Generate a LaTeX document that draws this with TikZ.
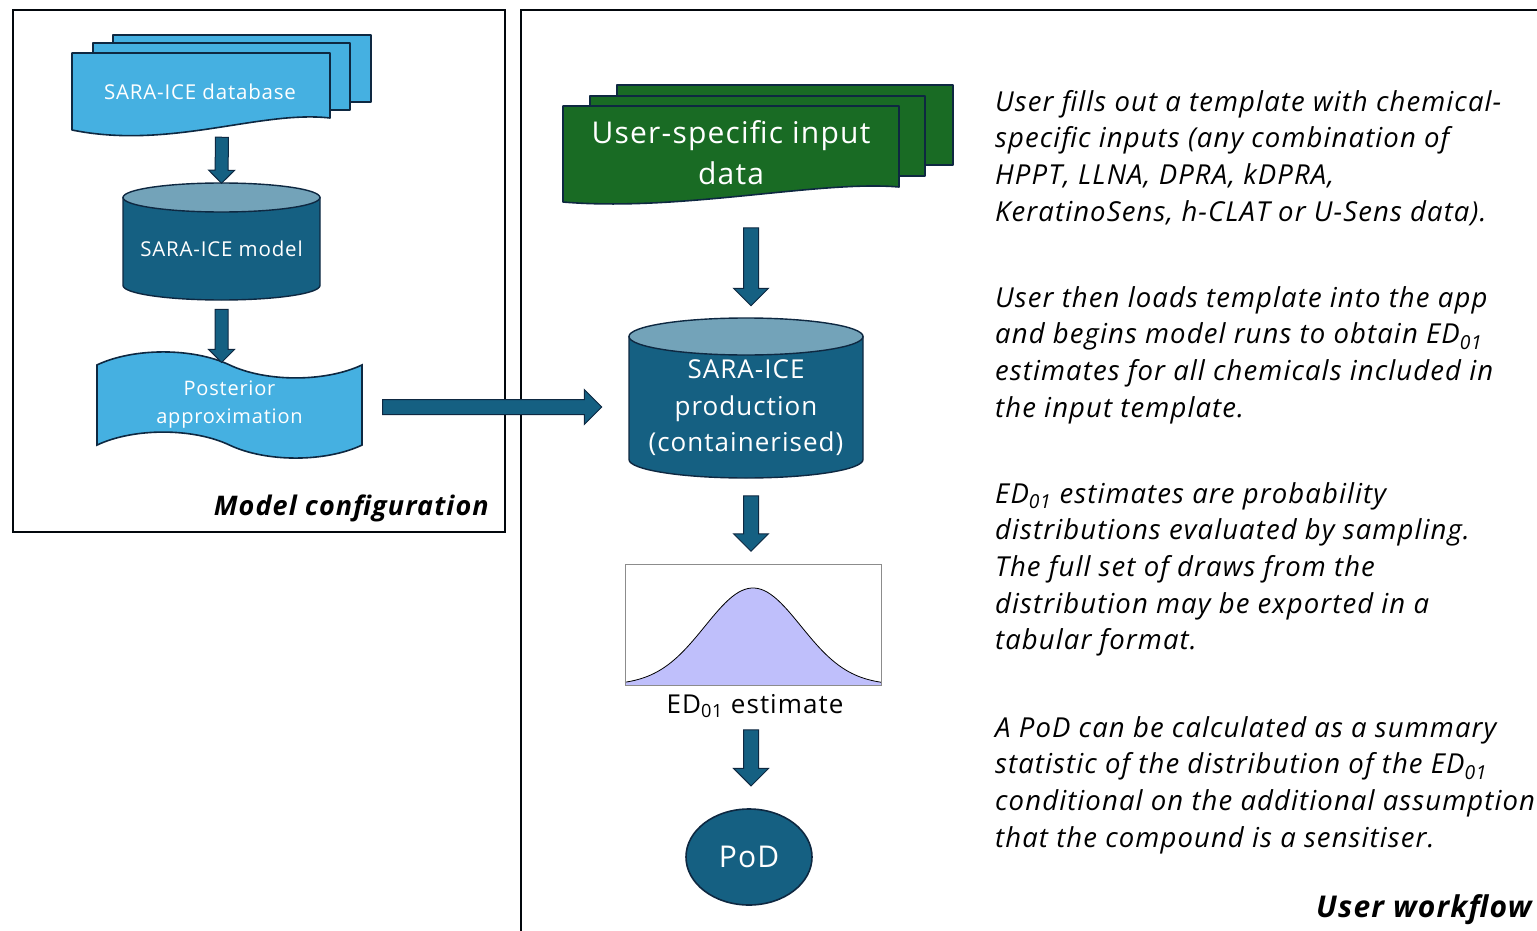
\documentclass[tikz,border=0pt]{standalone}
\usepackage{fontspec}
\setmainfont{Open Sans}[LetterSpace=4]
\usetikzlibrary{shapes, arrows, calc, positioning, fit}

\definecolor{navy}{HTML}{0E2841}
\definecolor{skyblue}{HTML}{45B0E1}
\definecolor{deepteal}{HTML}{156082}
\definecolor{paleteal}{HTML}{73A3B9}
\definecolor{leafgreen}{HTML}{196B24}
\definecolor{lavender}{HTML}{BFBFFB}

\tikzset{
    panel/.style={draw=black!80!navy, line width=2pt},
    sheet/.style={draw=navy, line width=1.6pt, line join=round},
    sheettext/.style={text=white, align=center, inner sep=2pt},
    drumline/.style={draw=navy, line width=1.4pt},
    drumtext/.style={text=white, align=center, inner sep=2pt},
    bigarrow/.style={single arrow, draw=navy, fill=deepteal, line width=1pt,
        inner sep=7pt, single arrow head extend=10pt, single arrow tip angle=90},
    smallarrow/.style={inner sep=6pt, single arrow head extend=6.5pt},
    para/.style={anchor=north west, inner sep=0pt, align=left,
        font=\fontsize{27.5}{36.7}\selectfont\itshape},
    heading/.style={inner sep=0pt, font=\fontsize{27}{30}\selectfont\bfseries\itshape}
}

\newcommand{\fatarrow}[3][]{%
    \path let \p1=#2, \p2=#3,
        \n1={veclen(\x2-\x1,\y2-\y1)}, \n2={atan2(\y2-\y1,\x2-\x1)} in
        node[bigarrow, #1, minimum height=\n1, rotate=\n2] at ($(\p1)!0.5!(\p2)$) {};}

\newcommand{\drum}[6]{%
    \draw[drumline, fill=deepteal] ({#2-#5},#3) -- ({#2-#5},#4)
        arc[start angle=180, end angle=0, x radius=#5, y radius=#6] -- ({#2+#5},#3) -- cycle;
    \draw[drumline, fill=paleteal] (#2,#3) ellipse[x radius=#5, y radius=#6];
    \coordinate (#1-top) at (#2,{#3-#6});
    \coordinate (#1-bottom) at (#2,{#4+#6});}

\begin{document}
\begin{tikzpicture}[x=1pt, y=-1pt]

    \useasboundingbox (0,0) rectangle (1537,931);
    \clip (0,0) rectangle (1537,931);

    \draw[panel] (13,10) rectangle (505,532);
    \draw[panel] (521,10) rectangle (1600,1000);

    % model configuration
    \draw[sheet, fill=skyblue] (113,35) rectangle (371,102);
    \draw[sheet, fill=skyblue] (93,43) rectangle (350,110);
    \draw[sheet, fill=skyblue] (72,53) -- (330,53) -- (330,118)
        .. controls (260,110) and (170,150) .. (72,130) -- cycle;
    \node[sheettext, font=\fontsize{20.5}{24}\selectfont] (db) at (200,92) {SARA-ICE database};
    \coordinate (dbfoot) at (222,134);

    \drum{model}{221.5}{197.5}{285.5}{98.5}{14.5}
    \node[drumtext, font=\fontsize{20.5}{24}\selectfont] (model) at (221.5,249) {SARA-ICE model};

    \node[tape, draw=navy, fill=skyblue, line width=1.6pt, minimum width=265, minimum height=104,
        tape bend top=out and in, tape bend bottom=out and in, tape bend height=26pt,
        text=white, align=center, font=\fontsize{20}{28}\selectfont]
        (post) at (229.5,405) {Posterior\\approximation};

    \node[heading, anchor=east] (cfgtitle) at (489,508) {Model configuration};

    % user workflow
    \draw[sheet, fill=leafgreen] (617,85) rectangle (953,165);
    \draw[sheet, fill=leafgreen] (590,96) rectangle (925,176);
    \draw[sheet, fill=leafgreen] (563,106) -- (899,106) -- (899,187)
        .. controls (820,180) and (680,212) .. (563,202) -- cycle;
    \node[sheettext, font=\fontsize{30}{41}\selectfont] (input) at (731,153) {User-specific input\\data};
    \coordinate (infoot) at (751,224);

    \drum{prod}{746}{336.5}{459.5}{117}{18.5}
    \node[drumtext, font=\fontsize{26}{36.5}\selectfont] (prod) at (746,408) {SARA-ICE\\production\\(containerised)};

    \fill[lavender] plot[domain=-128:128, samples=80] ({753+\x}, {685-97*exp(-0.5*(\x/48)^2)})
        -- (881,685) -- (625,685) -- cycle;
    \draw[black, line width=0.8pt] plot[domain=-128:128, samples=80] ({753+\x}, {685-97*exp(-0.5*(\x/48)^2)});
    \node[draw=black!45, line width=1pt, minimum width=256, minimum height=121, inner sep=0pt]
        (chart) at (753,624.5) {};

    \node[inner sep=2pt, font=\fontsize{26}{30}\selectfont] (est) at (755,706) {ED\textsubscript{01} estimate};

    \node[ellipse, draw=navy, fill=deepteal, line width=1.6pt, minimum width=126, minimum height=96,
        inner sep=0pt, text=white, font=\fontsize{30}{36}\selectfont] (pod) at (749,857) {PoD};

    \node[para] (p1) at (995,90) {User fills out a template with chemical-\\specific inputs (any combination of\\HPPT, LLNA, DPRA, kDPRA,\\KeratinoSens, h-CLAT or U-Sens data).};
    \node[para] (p2) at (995,286) {User then loads template into the app\\and begins model runs to obtain ED\textsubscript{01}\\estimates for all chemicals included in\\the input template.};
    \node[para] (p3) at (995,482) {ED\textsubscript{01} estimates are probability\\distributions evaluated by sampling.\\The full set of draws from the\\distribution may be exported in a\\tabular format.};
    \node[para] (p4) at (995,716) {A PoD can be calculated as a summary\\statistic of the distribution of the ED\textsubscript{01}\\conditional on the additional assumption\\that the compound is a sensitiser.};

    \node[heading, anchor=west, font=\fontsize{30}{34}\selectfont\bfseries\itshape] (flowtitle) at (1316,910) {User workflow};

    \fatarrow[smallarrow]{(dbfoot)}{($(model-top)+(0,-3)$)}
    \fatarrow[smallarrow]{($(model-bottom)+(0,6)$)}{($(model-bottom |- post.north)+(0,-5)$)}
    \fatarrow{($(post.east)+(16,2)$)}{($(post.east -| prod-top)+(-148,2)$)}
    \fatarrow{(infoot)}{($(infoot |- prod-top)+(0,-16)$)}
    \fatarrow{($(infoot |- prod-bottom)+(0,14)$)}{($(infoot |- chart.north)+(0,-16)$)}
    \fatarrow{($(infoot |- est.south)+(0,6)$)}{($(infoot |- pod.north)+(0,-26)$)}

\end{tikzpicture}
\end{document}
